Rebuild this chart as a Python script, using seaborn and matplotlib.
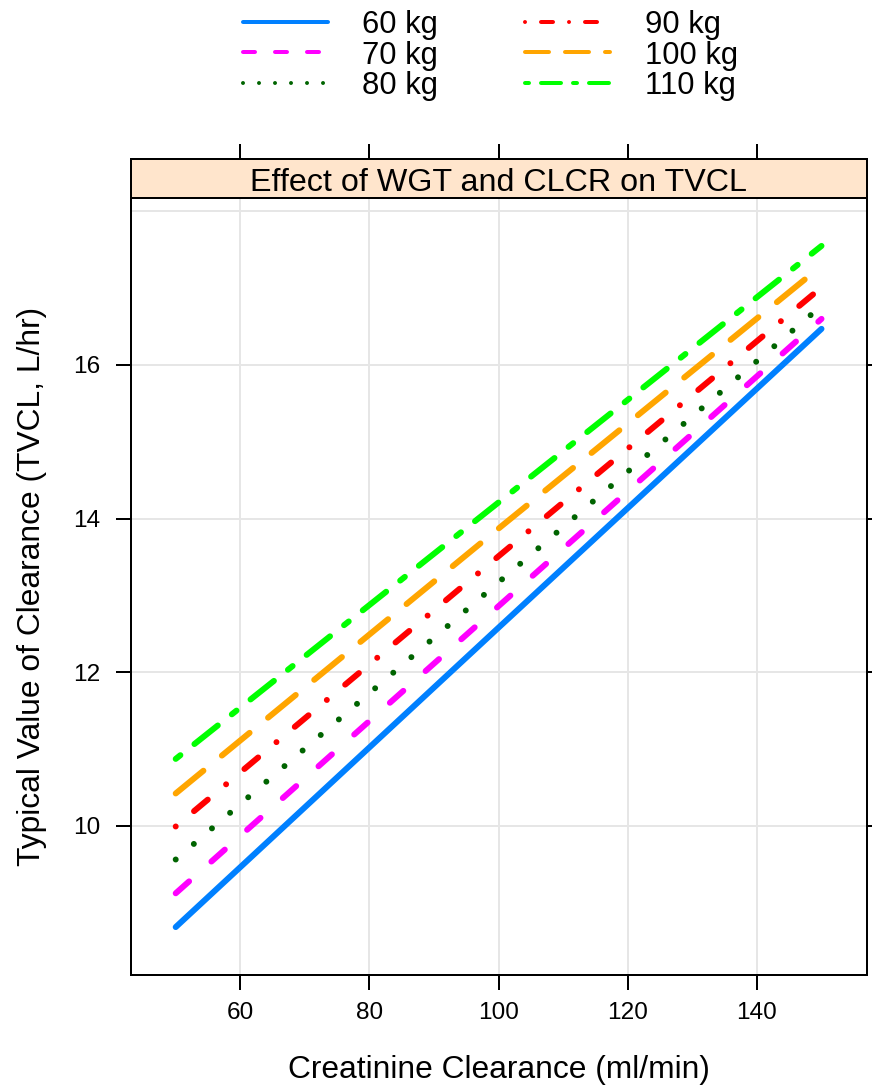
import matplotlib
matplotlib.use("Agg")
import matplotlib.pyplot as plt
from matplotlib.lines import Line2D
from matplotlib.ticker import FixedLocator
import numpy as np
import pandas as pd
import seaborn as sns

# ---- data: typical clearance by creatinine clearance, one series per weight ----
clcr = [50, 100, 150]
weights = ["60 kg", "70 kg", "80 kg", "90 kg", "100 kg", "110 kg"]
tvcl_60 = [8.68, 12.58, 16.47]
tvcl_70 = [9.12, 12.86, 16.60]
tvcl_80 = [9.56, 13.17, 16.77]
tvcl_90 = [9.99, 13.51, 17.01]
tvcl_100 = [10.42, 13.87, 17.29]
tvcl_110 = [10.87, 14.21, 17.55]
series = [tvcl_60, tvcl_70, tvcl_80, tvcl_90, tvcl_100, tvcl_110]

x_ticks = [60, 80, 100, 120, 140]
y_ticks = [10, 12, 14, 16]
y_grid_extra = [18]

# lattice-like colours and line types (dash lengths in units of line width,
# round caps: solid, dashed, dotted, dotdash, longdash, twodash)
colors = ["#0080ff", "#ff00ff", "#006400", "#ff0000", "#ffa500", "#00ff00"]
dash_styles = ["", (3, 5), (0.001, 4), (0.001, 4, 3, 4), (6, 4), (1, 3, 5, 3)]

df = pd.DataFrame({
    "CLCR": np.tile(clcr, len(weights)),
    "TVCL": np.concatenate(series),
    "WGT": np.repeat(weights, len(clcr)),
})

sns.set_theme(style="white")
plt.rcParams["font.family"] = ["Liberation Sans", "DejaVu Sans"]
plt.rcParams.update({
    "text.color": "black",
    "axes.labelcolor": "black",
    "xtick.color": "black",
    "ytick.color": "black",
    "xtick.labelcolor": "black",
    "ytick.labelcolor": "black",
})

W, H = 872, 1088
fig = plt.figure(figsize=(W / 100, H / 100), dpi=100)

def fx(px):
    return px / W

def fy(py):
    return 1 - py / H

left, right = 130.5, 866.7
panel_top, panel_bottom = 198.3, 975.0
strip_top = 159.3

ax = fig.add_axes([fx(left), fy(panel_bottom), fx(right - left), (panel_bottom - panel_top) / H])
strip = fig.add_axes([fx(left), fy(panel_top), fx(right - left), (panel_top - strip_top) / H])

palette = dict(zip(weights, colors))
dashes = dict(zip(weights, dash_styles))

sns.lineplot(data=df, x="CLCR", y="TVCL", hue="WGT", style="WGT",
             hue_order=weights, style_order=weights, palette=palette,
             dashes=dashes, linewidth=4.3, legend=False, ax=ax,
             dash_capstyle="round", solid_capstyle="round")

xlim = (43.0, 157.0)
ax.set_xlim(*xlim)
ax.set_ylim(8.056, 18.17)

ax.set_xticks(x_ticks)
ax.set_yticks(y_ticks)
ax.yaxis.set_minor_locator(FixedLocator(y_grid_extra))
ax.grid(True, which="both", color="#e6e6e6", linewidth=1.44)
ax.tick_params(which="minor", length=0)
ax.tick_params(axis="x", which="major", direction="out", length=10.8, width=1.44,
               color="black", labelcolor="black", labelsize=17.6, pad=8.5,
               bottom=True, top=False)
ax.tick_params(axis="y", which="major", direction="out", length=10.8, width=1.44,
               color="black", labelcolor="black", labelsize=17.6, pad=11,
               left=True, right=True, labelright=False)
for s in ax.spines.values():
    s.set_visible(True)
    s.set_color("black")
    s.set_linewidth(1.44)

ax.set_xlabel("Creatinine Clearance (ml/min)", fontsize=22.9, color="black")
ax.set_ylabel("Typical Value of Clearance (TVCL, L/hr)", fontsize=22.9, color="black")
ax.xaxis.set_label_coords(fx((left + right) / 2), fy(1055.0), transform=fig.transFigure)
ax.yaxis.set_label_coords(fx(46.6), fy((panel_top + panel_bottom) / 2), transform=fig.transFigure)

# strip with the panel title
strip.set_facecolor("#ffe5cc")
strip.set_xlim(*xlim)
strip.set_ylim(0, 1)
strip.set_xticks(x_ticks)
strip.set_yticks([])
strip.tick_params(axis="x", direction="out", length=10.8, width=1.44, color="black",
                  bottom=False, top=True, labelbottom=False, labeltop=False)
for s in strip.spines.values():
    s.set_visible(True)
    s.set_color("black")
    s.set_linewidth(1.44)
strip.text(0.5, (panel_top - 190.7) / (panel_top - strip_top),
           "Effect of WGT and CLCR on TVCL", ha="center", va="baseline",
           fontsize=23.2, color="black", transform=strip.transAxes)

# key above the panel, two columns of three
row_y = [21.7, 52.3, 82.7]
col_line = [(242.5, 327.5), (524.5, 609.5)]
col_text = [361.5, 645.0]
for i, (lab, c, d) in enumerate(zip(weights, colors, dash_styles)):
    col, row = divmod(i, 3)
    x0, x1 = col_line[col]
    y = row_y[row]
    ln = Line2D([fx(x0), fx(x1)], [fy(y), fy(y)], transform=fig.transFigure,
                color=c, linewidth=2.88, solid_capstyle="round",
                dash_capstyle="round")
    if d != "":
        ln.set_dashes(d)
    fig.add_artist(ln)
    fig.text(fx(col_text[col]), fy(y + 11.3), lab, fontsize=22.3,
             color="black", ha="left", va="baseline")

fig.savefig("out.png", dpi=100)
